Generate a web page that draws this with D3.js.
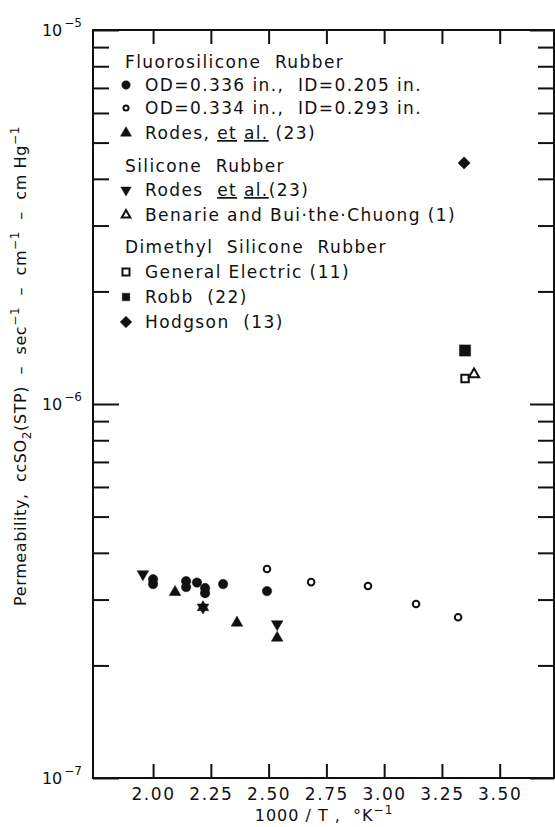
<!DOCTYPE html>
<html>
<head>
<meta charset="utf-8">
<style>
    body { margin: 0; background: #fff; }
    svg { display: block; }
    text { font-family: "DejaVu Sans", sans-serif; fill: #111; }
    .tick line { stroke: #111; stroke-width: 2; }
    .tick text { font-size: 17px; letter-spacing: 1.6px; }
</style>
</head>
<body>
<svg width="555" height="827"></svg>

<script src="https://d3js.org/d3.v7.min.js"></script>
<script>
    // values: [1000/T, permeability]
    const odA = [[2.00, 3.40e-7], [2.00, 3.30e-7], [2.143, 3.36e-7], [2.143, 3.24e-7], [2.19, 3.33e-7],
                 [2.225, 3.22e-7], [2.225, 3.12e-7], [2.303, 3.30e-7], [2.493, 3.16e-7]]
    const odB = [[2.493, 3.62e-7], [2.684, 3.34e-7], [2.93, 3.26e-7], [3.138, 2.92e-7], [3.32, 2.69e-7]]
    const rodesFluoro = [[2.095, 3.14e-7], [2.216, 2.86e-7], [2.363, 2.60e-7], [2.537, 2.37e-7]]
    const rodesSilicone = [[1.956, 3.51e-7], [2.216, 2.86e-7], [2.537, 2.58e-7]]
    const benarie = [[3.389, 1.20e-6]]
    const generalElectric = [[3.35, 1.17e-6]]
    const robb = [[3.35, 1.39e-6]]
    const hodgson = [[3.346, 4.41e-6]]

    const xTicks = [2.00, 2.25, 2.50, 2.75, 3.00, 3.25, 3.50]
    const yMajor = [1e-7, 1e-6, 1e-5]
    const yMajorExp = ["−7", "−6", "−5"]

    let svg = d3.select("svg")

    let x = d3.scaleLinear().domain([1.74, 3.735]).range([93, 554])
    let y = d3.scaleLog().domain([1e-7, 1e-5]).range([778, 30])

    let yMinor = []
    for (let d = -7; d < -5; d++) {
        for (let k = 2; k <= 9; k++) yMinor.push(k * Math.pow(10, d))
    }

    // frame
    svg.append("rect")
        .attr("x", x.range()[0]).attr("y", y.range()[1])
        .attr("width", x.range()[1] - x.range()[0])
        .attr("height", y.range()[0] - y.range()[1])
        .style("fill", "none").style("stroke", "#111").style("stroke-width", 2)

    function clean(g) { g.select(".domain").remove() }

    // left / right ticks, pointing inward
    svg.append("g").attr("transform", `translate(${x.range()[0]},0)`)
        .call(d3.axisLeft(y).tickValues(yMinor).tickSize(-16).tickFormat("")).call(clean)
    svg.append("g").attr("transform", `translate(${x.range()[0]},0)`)
        .call(d3.axisLeft(y).tickValues(yMajor).tickSize(-26).tickFormat("")).call(clean)
    svg.append("g").attr("transform", `translate(${x.range()[1]},0)`)
        .call(d3.axisRight(y).tickValues(yMinor).tickSize(-16).tickFormat("")).call(clean)
    svg.append("g").attr("transform", `translate(${x.range()[1]},0)`)
        .call(d3.axisRight(y).tickValues(yMajor).tickSize(-24).tickFormat("")).call(clean)

    // top / bottom ticks
    svg.append("g").attr("transform", `translate(0,${y.range()[1]})`)
        .call(d3.axisTop(x).tickValues(xTicks).tickSize(-14).tickFormat("")).call(clean)
    svg.append("g").attr("transform", `translate(0,${y.range()[0]})`)
        .call(d3.axisBottom(x).tickValues(xTicks).tickSizeInner(-14).tickSizeOuter(0)
            .tickPadding(10).tickFormat(d3.format(".2f")))
        .call(clean)

    // log decade labels  10^-n
    let decade = svg.selectAll(".decade")
        .data(yMajor)
        .join("text")
        .attr("class", "decade")
        .attr("x", 82)
        .attr("y", d => y(d) + 6)
        .attr("text-anchor", "end")
        .style("font-size", "16px")
    decade.append("tspan").text("10")
    decade.append("tspan").attr("dy", -9).attr("dx", 2).style("font-size", "12px")
        .text((d, i) => yMajorExp[i])

    // axis titles
    let xl = svg.append("text")
        .attr("x", 324).attr("y", 821)
        .attr("text-anchor", "middle")
        .style("font-size", "16px").style("letter-spacing", "1px").style("white-space", "pre")
    xl.append("tspan").text("1000 / T ,  °K")
    xl.append("tspan").attr("dy", -7).style("font-size", "12px").text("−1")

    let yl = svg.append("text")
        .attr("transform", "translate(26,366) rotate(-90)")
        .attr("text-anchor", "middle")
        .style("font-size", "16px").style("letter-spacing", "0.6px").style("white-space", "pre")
    yl.append("tspan").text("Permeability,  ccSO")
    yl.append("tspan").attr("dy", 5).style("font-size", "12px").text("2")
    yl.append("tspan").attr("dy", -5).text("(STP)  –  sec")
    yl.append("tspan").attr("dy", -7).style("font-size", "12px").text("−1")
    yl.append("tspan").attr("dy", 7).text("  –  cm")
    yl.append("tspan").attr("dy", -7).style("font-size", "12px").text("−1")
    yl.append("tspan").attr("dy", 7).text("  –  cm Hg")
    yl.append("tspan").attr("dy", -7).style("font-size", "12px").text("−1")

    // marker styles
    const marks = {
        filledCircle: { type: d3.symbolCircle, size: 70, fill: "#111", rot: 0 },
        openCircle: { type: d3.symbolCircle, size: 34, fill: "none", rot: 0 },
        upTri: { type: d3.symbolTriangle, size: 58, fill: "#111", rot: 0 },
        downTri: { type: d3.symbolTriangle, size: 58, fill: "#111", rot: 180 },
        openTri: { type: d3.symbolTriangle, size: 45, fill: "none", rot: 0 },
        openSquare: { type: d3.symbolSquare, size: 55, fill: "none", rot: 0 },
        filledSquare: { type: d3.symbolSquare, size: 125, fill: "#111", rot: 0 },
        diamond: { type: d3.symbolSquare, size: 75, fill: "#111", rot: 45 }
    }

    const series = [
        { data: odA, mark: "filledCircle" },
        { data: odB, mark: "openCircle" },
        { data: rodesFluoro, mark: "upTri" },
        { data: rodesSilicone, mark: "downTri" },
        { data: benarie, mark: "openTri" },
        { data: generalElectric, mark: "openSquare" },
        { data: robb, mark: "filledSquare" },
        { data: hodgson, mark: "diamond" }
    ]

    function drawMark(sel, m, scale) {
        sel.attr("d", d3.symbol().type(m.type).size(m.size * (scale || 1)))
            .style("fill", m.fill)
            .style("stroke", "#111")
            .style("stroke-width", m.fill === "none" ? 2 : 0.5)
    }

    series.forEach(s => {
        let m = marks[s.mark]
        svg.append("g").selectAll("path")
            .data(s.data)
            .join("path")
            .attr("transform", d => `translate(${x(d[0])},${y(d[1])}) rotate(${m.rot})`)
            .call(drawMark, m)
    })

    // legend
    const legendRows = [
        { text: "Fluorosilicone  Rubber", y: 62 },
        { text: "OD=0.336 in.,  ID=0.205 in.", mark: "filledCircle", y: 85, k: 0.8 },
        { text: "OD=0.334 in.,  ID=0.293 in.", mark: "openCircle", y: 108, k: 0.6 },
        { text: ["Rodes, ", "et", " ", "al.", " (23)"], mark: "upTri", y: 133, k: 0.9 },
        { text: "Silicone  Rubber", y: 166 },
        { text: ["Rodes  ", "et", " ", "al.", "(23)"], mark: "downTri", y: 190, k: 0.8 },
        { text: "Benarie and Bui·the·Chuong (1)", mark: "openTri", y: 215, k: 0.7 },
        { text: "Dimethyl  Silicone  Rubber", y: 247 },
        { text: "General Electric (11)", mark: "openSquare", y: 272, k: 0.9 },
        { text: "Robb  (22)", mark: "filledSquare", y: 297, k: 0.45 },
        { text: "Hodgson  (13)", mark: "diamond", y: 322, k: 0.9 }
    ]

    let legend = svg.append("g")
    legendRows.forEach(r => {
        let t = legend.append("text")
            .attr("x", r.mark ? 145 : 125)
            .attr("y", r.y + 6)
            .style("font-size", "17px").style("letter-spacing", "1.4px").style("white-space", "pre")
        if (Array.isArray(r.text)) {
            r.text.forEach((part, i) => {
                t.append("tspan").text(part)
                    .style("text-decoration", (i === 1 || i === 3) ? "underline" : "none")
            })
        } else {
            t.text(r.text)
        }
        if (r.mark) {
            let m = marks[r.mark]
            legend.append("path")
                .attr("transform", `translate(126,${r.y}) rotate(${m.rot})`)
                .call(drawMark, m, r.k)
        }
    })
</script>
</body>
</html>
